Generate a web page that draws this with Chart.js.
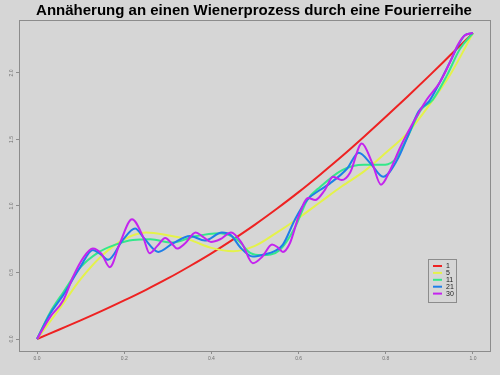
<!DOCTYPE html>
<html><head><meta charset="utf-8">
<script src="https://cdn.jsdelivr.net/npm/chart.js@4.4.0/dist/chart.umd.min.js"></script>
<style>html,body{margin:0;padding:0;background:#d6d6d6}canvas{display:block}</style>
</head><body>
<canvas id="c" width="500" height="375"></canvas>
<script>
const chartTitle = "Annäherung an einen Wienerprozess durch eine Fourierreihe";
const seriesLabels = ["1", "5", "11", "21", "30"];
const xTicks = [0, 0.2, 0.4, 0.6, 0.8, 1.0];
const yTicks = [0, 0.5, 1.0, 1.5, 2.0];

const redT = [0,.05,.1,.15,.2,.25,.3,.35,.4,.45,.5,.55,.6,.65,.7,.75,.8,.85,.9,.95,1];
const redV = [0,.070,.140,.213,.290,.370,.455,.547,.644,.749,.860,.979,1.104,1.237,1.375,1.520,1.670,1.823,1.980,2.140,2.3];

const yellowT = [0,.05,.1,.15,.2,.25,.3,.35,.4,.45,.5,.55,.6,.65,.7,.75,.8,.85,.9,.95,1];
const yellowV = [0,.22,.45,.63,.75,.80,.78,.745,.685,.66,.70,.80,.91,1.03,1.15,1.26,1.40,1.55,1.76,2.0,2.3];

const greenT = [0,.03,.06,.1,.14,.18,.22,.26,.31,.36,.42,.46,.49,.515,.557,.592,.62,.65,.70,.75,.79,.82,.85,.88,.908,.94,.97,1];
const greenV = [0,.2,.35,.54,.65,.71,.745,.75,.725,.77,.795,.745,.645,.63,.67,.84,1.045,1.145,1.27,1.31,1.31,1.345,1.52,1.72,1.80,1.98,2.18,2.3];

const blueT = [0,.03,.06,.099,.128,.145,.163,.197,.225,.245,.278,.312,.351,.385,.424,.445,.466,.495,.52,.545,.564,.592,.619,.649,.672,.711,.738,.765,.794,.826,.85,.875,.9,.924,.947,.965,.98,1];
const blueV = [0,.19,.33,.54,.67,.64,.595,.745,.83,.76,.655,.72,.775,.74,.80,.78,.69,.62,.635,.66,.71,.90,1.045,1.12,1.17,1.28,1.40,1.32,1.22,1.345,1.52,1.71,1.79,1.93,2.08,2.2,2.28,2.3];

const magentaT = [0,.03,.06,.083,.106,.128,.148,.167,.19,.218,.243,.258,.276,.294,.31,.321,.34,.364,.38,.399,.42,.445,.47,.495,.517,.539,.552,.564,.58,.6,.622,.638,.66,.679,.699,.718,.745,.768,.789,.81,.833,.86,.894,.924,.947,.965,.98,1];
const magentaV = [0,.165,.29,.47,.61,.68,.64,.54,.72,.90,.77,.645,.70,.76,.715,.68,.72,.80,.77,.73,.75,.80,.72,.57,.62,.71,.69,.655,.72,.92,1.06,1.045,1.12,1.22,1.195,1.25,1.47,1.33,1.16,1.27,1.44,1.61,1.80,1.93,2.08,2.21,2.28,2.3];

const colors = ["#ee2222", "#e4f24a", "#33e88a", "#1e7fe8", "#c424ee"];
const seriesT = [redT, yellowT, greenT, blueT, magentaT];
const seriesV = [redV, yellowV, greenV, blueV, magentaV];

const datasets = seriesLabels.map((lab, i) => ({
  label: lab,
  data: seriesT[i].map((t, k) => ({x: t, y: seriesV[i][k]})),
  borderColor: colors[i],
  borderWidth: 2,
  pointRadius: 0,
  fill: false,
  cubicInterpolationMode: 'monotone',
  order: 5 - i
}));

const deco = {
  id: 'deco',
  beforeDraw(chart) {
    const c = chart.ctx; c.save();
    c.fillStyle = '#d6d6d6'; c.fillRect(0, 0, chart.width, chart.height);
    c.restore();
  },
  beforeDatasetsDraw(chart) {
    const c = chart.ctx, a = chart.chartArea; c.save();
    c.strokeStyle = '#8c8c8c'; c.lineWidth = 1;
    c.strokeRect(Math.round(a.left) + 0.5, Math.round(a.top) + 0.5, Math.round(a.right - a.left), Math.round(a.bottom - a.top));
    c.restore();
  },
  afterDraw(chart) {
    const c = chart.ctx, a = chart.chartArea; c.save();
    // title
    c.fillStyle = '#000';
    c.font = 'bold 15px "Liberation Sans", Arial, sans-serif';
    c.textAlign = 'center'; c.textBaseline = 'alphabetic';
    c.fillText(chartTitle, 254, 15);
    // y tick labels rotated
    const ys = chart.scales.y;
    c.fillStyle = '#707070';
    c.font = '5px "Liberation Sans", Arial, sans-serif';
    c.textAlign = 'center'; c.textBaseline = 'middle';
    yTicks.forEach(v => {
      const py = ys.getPixelForValue(v);
      c.save(); c.translate(12, py); c.rotate(-Math.PI / 2);
      c.fillText(v.toFixed(1), 0, 0); c.restore();
    });
    // legend
    const lx = 428, ly = 259, lw = 28, lh = 43;
    c.strokeStyle = '#8c8c8c'; c.lineWidth = 1;
    c.strokeRect(lx + 0.5, ly + 0.5, lw, lh);
    c.font = '7px "Liberation Sans", Arial, sans-serif';
    c.textAlign = 'left'; c.textBaseline = 'middle';
    seriesLabels.forEach((lab, i) => {
      const yy = 266 + i * 6.9;
      c.strokeStyle = colors[i]; c.lineWidth = 2;
      c.beginPath(); c.moveTo(433, yy); c.lineTo(442, yy); c.stroke();
      c.fillStyle = '#222';
      c.fillText(lab, 446, yy + 0.5);
    });
    c.restore();
  }
};

new Chart(document.getElementById('c'), {
  type: 'line',
  data: { datasets },
  options: {
    responsive: false,
    animation: false,
    layout: { padding: { top: 20, right: 10, left: 0, bottom: 0 } },
    plugins: { legend: { display: false }, title: { display: false }, tooltip: { enabled: false } },
    scales: {
      x: {
        type: 'linear', min: -0.0413, max: 1.039,
        afterBuildTicks: s => { s.ticks = xTicks.map(v => ({value: v})); },
        afterFit: s => { s.height = 24; },
        border: { display: false },
        grid: { drawOnChartArea: false, drawTicks: true, tickLength: 3, color: '#8c8c8c' },
        ticks: { font: { size: 5, family: '"Liberation Sans", Arial' }, color: '#707070', padding: 2, maxRotation: 0,
                 callback: v => Number(v).toFixed(1) }
      },
      y: {
        type: 'linear', min: -0.09, max: 2.398,
        afterBuildTicks: s => { s.ticks = yTicks.map(v => ({value: v})); },
        afterFit: s => { s.width = 19; },
        border: { display: false },
        grid: { drawOnChartArea: false, drawTicks: true, tickLength: 3, color: '#8c8c8c' },
        ticks: { display: false }
      }
    }
  },
  plugins: [deco]
});
</script>
</body></html>
